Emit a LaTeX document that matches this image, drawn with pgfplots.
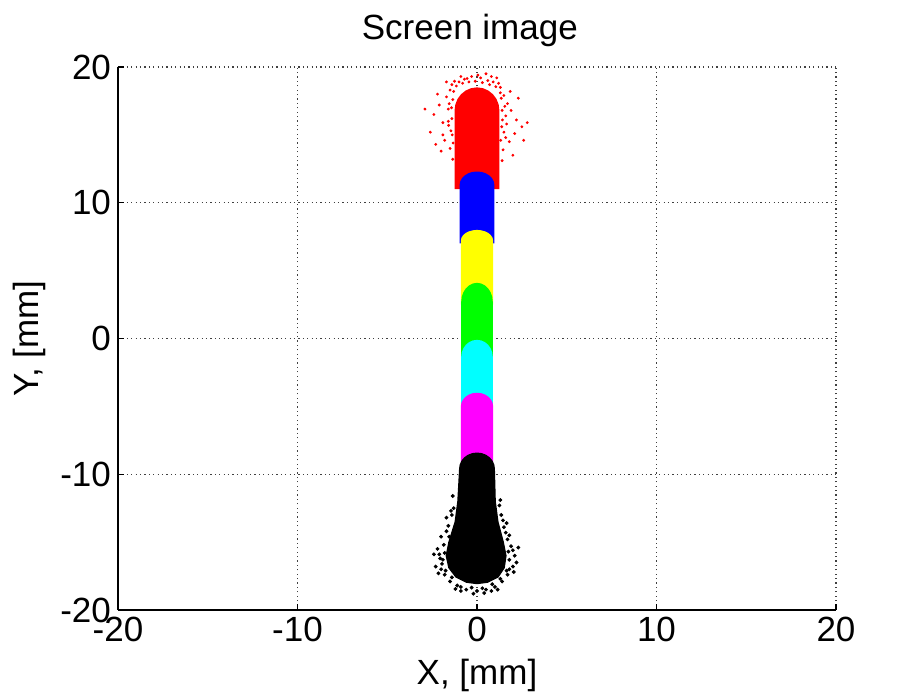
\documentclass[border=0pt]{standalone}
\usepackage{fontspec}
\setmainfont{Liberation Sans}
\usepackage{pgfplots}
\pgfplotsset{compat=1.18}

\definecolor{mred}{RGB}{255,0,0}
\definecolor{mblue}{RGB}{0,0,255}
\definecolor{myellow}{RGB}{255,255,0}
\definecolor{mgreen}{RGB}{0,255,0}
\definecolor{mcyan}{RGB}{0,255,255}
\definecolor{mmagenta}{RGB}{255,0,255}

\begin{document}
\begin{tikzpicture}
\path[use as bounding box] (-59pt,-44.5pt) rectangle (397pt,305pt);
\begin{axis}[
    at={(0,0)}, anchor=south west,
    scale only axis,
    width=359pt, height=271.5pt,
    xmin=-20, xmax=20, ymin=-20, ymax=20,
    xtick={-20,-10,0,10,20},
    ytick={-20,-10,0,10,20},
    axis x line*=bottom, axis y line*=left,
    axis line style={-, line width=0.6pt},
    tick align=inside,
    major tick length=3pt,
    tick style={line width=0.6pt, black},
    grid=major,
    grid style={black!75, line width=0.6pt, dash pattern=on 0.6pt off 1.6pt},
    font=\fontsize{17.5}{20}\selectfont,
    /pgf/number format/assume math mode=true,
    ticklabel style={font=\fontsize{17.5}{20}\selectfont},
    title={Screen image},
    title style={at={(axis description cs:0.49,1.045)}, anchor=center},
    xlabel={X, [mm]},
    xlabel style={at={(axis description cs:0.5,-0.12)}, anchor=center},
    ylabel={Y, [mm]},
    ylabel style={at={(axis description cs:-0.123,0.5)}, anchor=center, rotate=0},
]
% red halo
\addplot[only marks, mark=*, mark size=0.5pt, color=mred] coordinates {
(-2.4,16.5) (-2.1,17.2) (-1.9,15.9) (-1.7,17.8) (-1.6,16.9) (-1.5,18.3)
(-1.45,15.3) (-1.8,14.6) (-2.6,15.2) (-1.4,18.7) (-1.0,18.9) (-0.7,19.1)
(-0.3,19.3) (0.2,19.2) (0.6,19.0) (0.9,18.9) (1.3,18.5) (1.5,17.9)
(1.7,17.3) (1.6,16.4) (1.9,16.8) (2.2,16.1) (2.5,15.6) (2.8,15.9)
(1.5,15.2) (1.8,14.5) (1.45,13.9) (2.0,13.5) (-1.5,14.0) (-2.0,13.8)
(-1.35,13.2) (1.4,13.1) (-2.2,18.0) (2.3,17.7) (-0.9,19.3) (0.5,19.5)
(1.1,19.2) (-1.6,16.0) (1.65,15.8) (-1.9,15.0)
(-1.35,17.6) (-1.4,16.2) (-1.38,15.0) (-1.33,14.4) (-1.42,17.0) (-1.3,18.2)
(1.35,17.7) (1.4,16.8) (1.38,15.6) (1.32,14.6) (1.42,16.1) (1.3,18.1)
(-1.15,18.6) (-0.8,18.8) (-0.45,18.9) (-0.1,18.95) (0.3,18.85) (0.7,18.7)
(1.05,18.55) (-0.55,19.15) (0.05,19.4) (0.8,19.3) (-1.25,18.95) (1.2,18.8)
(-1.55,17.3) (1.55,17.1) (-1.58,15.7) (1.6,14.8) (-1.7,18.9) (1.85,18.2)
(-2.9,16.9) (2.6,14.6) (-2.3,14.3) (2.1,15.1)
};
% red
\addplot[fill=mred, draw=none] coordinates {
(-1.25,11) (-1.25,16.8) (-1.207,17.24) (-1.083,17.65) (-0.884,18.0) (-0.625,18.27)
(-0.324,18.44) (0,18.5) (0.324,18.44) (0.625,18.27) (0.884,18.0) (1.083,17.65)
(1.207,17.24) (1.25,16.8) (1.25,11)
};
% blue
\addplot[fill=mblue, draw=none] coordinates {
(-0.97,7) (-0.97,11.3) (-0.937,11.56) (-0.84,11.8) (-0.686,12.01) (-0.485,12.17)
(-0.251,12.27) (0,12.3) (0.251,12.27) (0.485,12.17) (0.686,12.01) (0.84,11.8)
(0.937,11.56) (0.97,11.3) (0.97,7)
};
% yellow
\addplot[fill=myellow, draw=none] coordinates {
(-0.9,2.5) (-0.9,7.2) (-0.869,7.41) (-0.779,7.6) (-0.636,7.77) (-0.45,7.89)
(-0.233,7.97) (0,8.0) (0.233,7.97) (0.45,7.89) (0.636,7.77) (0.779,7.6)
(0.869,7.41) (0.9,7.2) (0.9,2.5)
};
% green
\addplot[fill=mgreen, draw=none] coordinates {
(-0.88,-1.6) (-0.88,2.7) (-0.85,3.06) (-0.762,3.4) (-0.622,3.69) (-0.44,3.91)
(-0.228,4.05) (0,4.1) (0.228,4.05) (0.44,3.91) (0.622,3.69) (0.762,3.4)
(0.85,3.06) (0.88,2.7) (0.88,-1.6)
};
% cyan
\addplot[fill=mcyan, draw=none] coordinates {
(-0.88,-5.2) (-0.88,-1.35) (-0.85,-1.03) (-0.762,-0.725) (-0.622,-0.466) (-0.44,-0.267)
(-0.228,-0.142) (0,-0.1) (0.228,-0.142) (0.44,-0.267) (0.622,-0.466) (0.762,-0.725)
(0.85,-1.03) (0.88,-1.35) (0.88,-5.2)
};
% magenta
\addplot[fill=mmagenta, draw=none] coordinates {
(-0.9,-9.8) (-0.9,-5) (-0.869,-4.74) (-0.779,-4.5) (-0.636,-4.29) (-0.45,-4.13)
(-0.233,-4.03) (0,-4) (0.233,-4.03) (0.45,-4.13) (0.636,-4.29) (0.779,-4.5)
(0.869,-4.74) (0.9,-5) (0.9,-9.8)
};
% black
\addplot[fill=black, draw=none] coordinates {
(-1.0,-9.6) (-0.966,-9.29) (-0.866,-9.0) (-0.707,-8.75) (-0.5,-8.56) (-0.259,-8.44)
(0,-8.4) (0.259,-8.44) (0.5,-8.56) (0.707,-8.75) (0.866,-9.0) (0.966,-9.29)
(1.0,-9.6) (1.05,-12) (1.2,-13.5) (1.5,-15) (1.65,-16) (1.55,-16.9) (1.2,-17.6)
(0.6,-18.0) (0,-18.1) (-0.6,-18.0) (-1.2,-17.6) (-1.6,-16.9) (-1.75,-16)
(-1.6,-15) (-1.25,-13.5) (-1.1,-12)
};
% black halo
\addplot[only marks, mark=*, mark size=0.75pt, color=black] coordinates {
(-2.2,-15.5) (-2.0,-14.6) (-1.9,-16.3) (-2.3,-16.8) (-1.8,-17.4) (-1.5,-17.9)
(-1.1,-18.2) (-0.6,-18.5) (0,-18.6) (0.5,-18.5) (1.0,-18.3) (1.4,-17.9)
(1.7,-17.4) (2.0,-16.8) (2.1,-16.0) (1.9,-15.3) (1.8,-14.5) (1.5,-13.9)
(1.35,-13.0) (-1.6,-13.8) (-1.4,-13.0) (-2.1,-15.9) (2.2,-16.5) (-1.3,-12.5)
(1.25,-12.3) (-2.0,-17.0) (1.8,-17.0) (-0.9,-18.6) (0.8,-18.6) (-1.7,-14.2)
(1.7,-14.8) (2.0,-15.6)
(-1.85,-15.2) (-1.95,-16.6) (-1.75,-17.1) (-1.4,-17.6) (-0.9,-18.3) (-0.3,-18.35)
(0.3,-18.4) (0.85,-18.1) (1.3,-17.7) (1.65,-17.1) (1.8,-16.3) (1.75,-15.7)
(1.6,-14.3) (-1.55,-14.6) (-1.8,-15.8) (-2.05,-16.2) (2.05,-17.2) (-2.15,-17.3)
(-1.2,-18.45) (1.15,-18.5) (-0.2,-18.8) (0.4,-18.75) (-1.45,-12.7) (1.45,-13.4)
(-1.7,-13.2) (1.65,-13.6) (-2.4,-15.9) (2.3,-15.4) (-1.35,-11.6) (1.3,-11.9)
};
\end{axis}
\end{tikzpicture}
\end{document}
